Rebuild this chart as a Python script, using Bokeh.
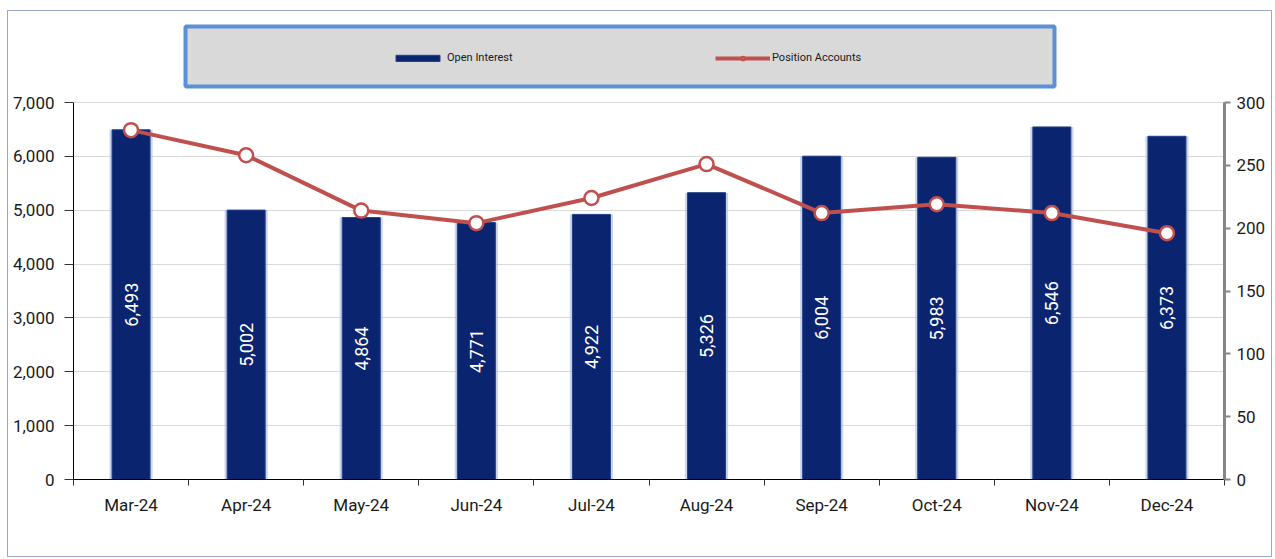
from bokeh.plotting import figure
from bokeh.models import (Range1d, LinearAxis, FixedTicker, Legend, LegendItem,
                          BoxAnnotation, ColumnDataSource, NumeralTickFormatter)
from bokeh.core.properties import value
from bokeh.embed import file_html
from bokeh.resources import INLINE

months = ["Mar-24", "Apr-24", "May-24", "Jun-24", "Jul-24", "Aug-24",
          "Sep-24", "Oct-24", "Nov-24", "Dec-24"]
open_interest = [6493, 5002, 4864, 4771, 4922, 5326, 6004, 5983, 6546, 6373]
position_accounts = [278, 258, 214, 204, 224, 251, 212, 219, 212, 196]
left_ticks = [0, 1000, 2000, 3000, 4000, 5000, 6000, 7000]
right_ticks = [0, 50, 100, 150, 200, 250, 300]

FONT = "Roboto"

# frame is extended upward to hold the legend box; axes are bounded to the data scale
FRAME_H, AXIS_H = 459, 377
left_max, right_max = left_ticks[-1], right_ticks[-1]

idx = list(range(len(months)))
src = ColumnDataSource(dict(
    x=idx,
    oi=open_interest,
    oi_half=[v / 2 for v in open_interest],
    oi_label=[f"{v:,}" for v in open_interest],
    pa=position_accounts,
))

p = figure(width=1265, height=547, output_backend="svg", toolbar_location=None,
           x_range=Range1d(-0.5, len(months) - 0.5),
           y_range=Range1d(0, left_max * FRAME_H / AXIS_H),
           min_border_left=65, min_border_right=49, min_border_top=9,
           min_border_bottom=79)
p.styles = {"border": "1px solid #9aa8d0", "margin": "10px 0 0 7px"}
p.outline_line_color = None
p.background_fill_color = "white"
p.border_fill_color = "white"

p.extra_y_ranges = {"pa": Range1d(0, right_max * FRAME_H / AXIS_H)}

# grid
p.xgrid.grid_line_color = None
p.ygrid.grid_line_color = "#d9d9d9"
p.ygrid.grid_line_width = 1

# x axis
xa = p.xaxis[0]
xa.ticker = FixedTicker(ticks=idx, minor_ticks=[i - 0.5 for i in range(len(months) + 1)])
xa.major_label_overrides = {i: m for i, m in enumerate(months)}
xa.major_tick_out = 0
xa.major_tick_in = 0
xa.minor_tick_out = 6
xa.minor_tick_in = 0
xa.minor_tick_line_color = "#333333"
xa.axis_line_color = "black"
xa.major_label_text_font = FONT
xa.major_label_text_font_size = "17px"
xa.major_label_text_color = "#1a1a1a"
xa.major_label_standoff = 9

# left axis
ya = p.yaxis[0]
ya.ticker = FixedTicker(ticks=left_ticks)
ya.bounds = (0, left_max)
ya.formatter = NumeralTickFormatter(format="0,0")
ya.major_tick_out = 9
ya.major_tick_in = 0
ya.minor_tick_out = 0
ya.minor_tick_in = 0
ya.axis_line_color = "black"
ya.major_tick_line_color = "#333333"
ya.major_label_text_font = FONT
ya.major_label_text_font_size = "17px"
ya.major_label_text_color = "#1a1a1a"
ya.major_label_standoff = 10

# right axis
ra = LinearAxis(y_range_name="pa", ticker=FixedTicker(ticks=right_ticks),
                bounds=(0, right_max))
ra.axis_line_color = "#868686"
ra.axis_line_width = 3
ra.major_tick_line_color = "#868686"
ra.major_tick_line_width = 2
ra.major_tick_out = 6
ra.major_tick_in = 0
ra.minor_tick_out = 0
ra.minor_tick_in = 0
ra.major_label_text_font = FONT
ra.major_label_text_font_size = "17px"
ra.major_label_text_color = "#1a1a1a"
ra.major_label_standoff = 6
p.add_layout(ra, "right")

# legend box
box = BoxAnnotation(left=112, right=981, bottom=393, top=453,
                    left_units="screen", right_units="screen",
                    bottom_units="screen", top_units="screen",
                    fill_color="#d9d9d9", fill_alpha=1.0,
                    line_color="#5b8fd6", line_width=4, line_alpha=1.0,
                    level="underlay")
p.add_layout(box)

# bars
p.vbar(x="x", top="oi", width=0.375, source=src, fill_color="#9fb0d8",
       fill_alpha=0.55, line_color=None)
bars = p.vbar(x="x", top="oi", width=0.33, source=src, fill_color="#0b2470",
              line_color="#23408a", line_width=1)

p.text(x="x", y="oi_half", text="oi_label", source=src, angle=1.5708,
       text_align="center", text_baseline="middle", text_color="white",
       text_font=value(FONT), text_font_size="18px")

# line
ln = p.line(x="x", y="pa", source=src, y_range_name="pa", line_color="#c0504d",
            line_width=4)
mk = p.scatter(x="x", y="pa", source=src, y_range_name="pa", size=14,
               fill_color="white", line_color="#c0504d", line_width=2.5)

legend = Legend(items=[LegendItem(label="Open Interest", renderers=[bars]),
                       LegendItem(label="Position Accounts", renderers=[ln, mk])],
                orientation="horizontal", location=(317, 415),
                glyph_width=55, glyph_height=8, label_width=268,
                label_standoff=2, spacing=0, padding=0, margin=0,
                label_text_font=FONT, label_text_font_size="11px",
                label_text_color="#1a1a1a",
                background_fill_alpha=0, border_line_alpha=0)
p.add_layout(legend)

open("out.html", "w").write(file_html(p, INLINE))
